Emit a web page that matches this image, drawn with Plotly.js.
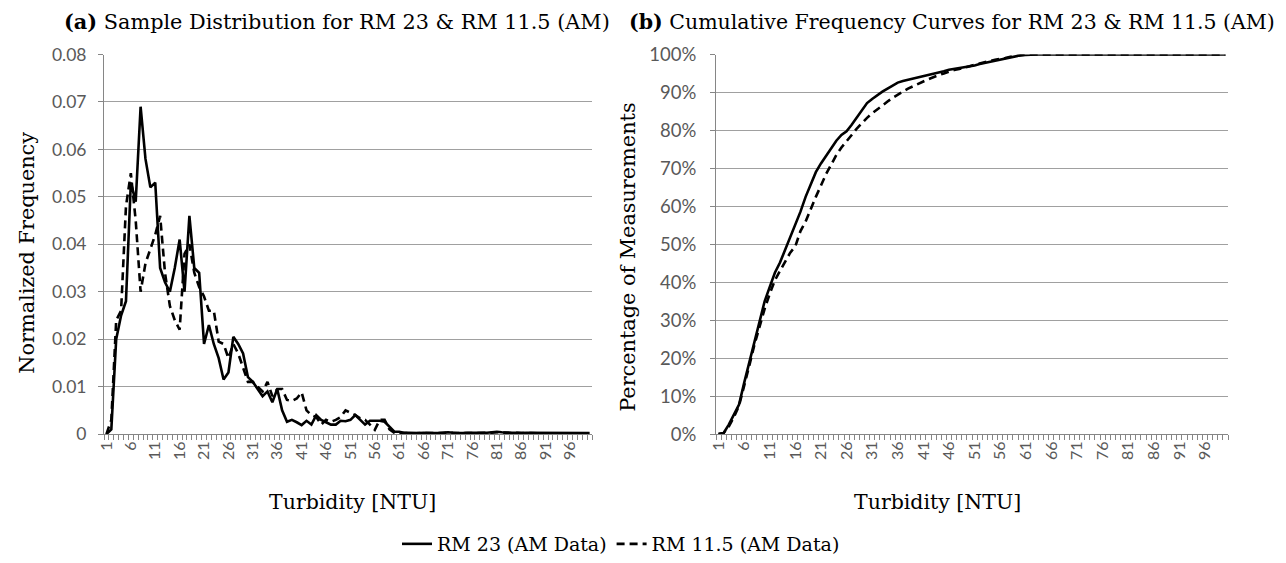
<!DOCTYPE html>
<html>
<head>
<meta charset="utf-8">
<script src="https://cdn.plot.ly/plotly-3.0.1.min.js"></script>
<style>html,body{margin:0;padding:0;background:#fff;}#chart{width:1286px;height:563px;}</style>
</head>
<body>
<div id="chart"></div>
<script>
// Turbidity categories [NTU]
const turbidity = [1,2,3,4,5,6,7,8,9,10,11,12,13,14,15,16,17,18,19,20,
  21,22,23,24,25,26,27,28,29,30,31,32,33,34,35,36,37,38,39,40,
  41,42,43,44,45,46,47,48,49,50,51,52,53,54,55,56,57,58,59,60,
  61,62,63,64,65,66,67,68,69,70,71,72,73,74,75,76,77,78,79,80,
  81,82,83,84,85,86,87,88,89,90,91,92,93,94,95,96,97,98,99,100];
const tickLabels = [1,6,11,16,21,26,31,36,41,46,51,56,61,66,71,76,81,86,91,96];

// (a) normalized frequency
const freqRM23 = [0,0.001,0.02,0.025,0.028,0.053,0.049,0.069,0.058,0.052,
  0.053,0.035,0.032,0.030,0.035,0.041,0.030,0.046,0.035,0.034,
  0.019,0.023,0.019,0.016,0.0115,0.013,0.0205,0.019,0.017,0.012,
  0.011,0.0095,0.008,0.009,0.0067,0.0095,0.005,0.0026,0.003,0.0025,
  0.0019,0.0028,0.002,0.004,0.003,0.0025,0.002,0.002,0.0028,0.0027,
  0.003,0.004,0.003,0.002,0.0028,0.0028,0.0028,0.0026,0.0015,0.0005,
  0.0005,0.0003,0.0003,0.0002,0.0002,0.0003,0.0002,0.0002,0.0002,0.0003,
  0.0004,0.0003,0.0002,0.0002,0.0003,0.0003,0.0002,0.0003,0.0003,0.0004,
  0.0005,0.0004,0.0003,0.0003,0.0003,0.0002,0.0003,0.0003,0.0002,0.0003,
  0.0002,0.0002,0.0003,0.0002,0.0002,0.0002,0.0002,0.0002,0.0002,0.0002];
const freqRM115 = [0,0.003,0.024,0.026,0.048,0.055,0.045,0.030,0.036,0.039,
  0.042,0.046,0.034,0.027,0.024,0.022,0.038,0.040,0.034,0.031,
  0.029,0.026,0.026,0.0195,0.019,0.016,0.019,0.017,0.014,0.011,
  0.011,0.010,0.009,0.011,0.008,0.0095,0.0095,0.0072,0.007,0.0075,
  0.0088,0.005,0.004,0.0036,0.002,0.003,0.0026,0.003,0.0036,0.005,
  0.0045,0.004,0.0033,0.003,0.002,0.0009,0.003,0.003,0.001,0.0003,
  0,0.0002,0.0002,0.0001,0.0002,0.0002,0.0001,0.0002,0.0002,0.0002,
  0.0003,0.0002,0.0002,0.0002,0.0002,0.0003,0.0002,0.0002,0.0003,0.0003,
  0.0004,0.0003,0.0002,0.0002,0.0003,0.0002,0.0002,0.0002,0.0002,0.0002,
  0.0002,0.0001,0.0002,0.0002,0.0001,0.0002,0.0001,0.0001,0.0001,0.0001];

// (b) cumulative percentage of measurements
const cumRM23 = [0,0.3,2.5,5,7.8,13.5,19,24.5,29.5,35,
  38.8,42.5,45.2,48.5,51.6,55,58.6,62.5,66,69,
  71.3,73.3,75.3,77.3,78.8,79.8,81.5,83.5,85.5,87.2,
  88.3,89.3,90.2,91,91.8,92.6,93,93.3,93.7,94,
  94.3,94.6,95,95.3,95.6,96,96.2,96.4,96.6,96.8,
  97.1,97.5,97.8,98,98.3,98.6,98.9,99.2,99.5,99.8,
  99.9,100,100,100,100,100,100,100,100,100,
  100,100,100,100,100,100,100,100,100,100,
  100,100,100,100,100,100,100,100,100,100,
  100,100,100,100,100,100,100,100,100,100];
const cumRM115 = [0,0.3,2,4.5,7.5,12.5,18,23.5,28.5,33,
  37,40.5,43,45.5,47.8,49.5,53.5,56,59.5,62.5,
  65.5,68.5,71,73.5,75.5,77.3,78.8,80.5,82,83.3,
  84.5,85.6,86.6,87.6,88.6,89.5,90.2,91,91.7,92.3,
  92.9,93.5,94.1,94.6,95,95.5,95.9,96.2,96.5,96.9,
  97.3,97.7,98,98.3,98.6,98.8,99.1,99.4,99.6,99.9,
  100,100,100,100,100,100,100,100,100,100,
  100,100,100,100,100,100,100,100,100,100,
  100,100,100,100,100,100,100,100,100,100,
  100,100,100,100,100,100,100,100,100,100];

const serif = "DejaVu Serif, Liberation Serif, serif";
const sans = "Lato, Open Sans, Liberation Sans, sans-serif";
const tickGrey = '#595959';
const axisGrey = '#868686';
const gridGrey = '#a0a0a0';
const dashPat = '8px,5px';

const traces = [
  {x: turbidity, y: freqRM23, xaxis:'x', yaxis:'y', mode:'lines', name:'RM 23 (AM Data)',
   line:{color:'#000', width:2.6}, legendgroup:'a'},
  {x: turbidity, y: freqRM115, xaxis:'x', yaxis:'y', mode:'lines', name:'RM 11.5 (AM Data)',
   line:{color:'#000', width:2.6, dash:dashPat}, legendgroup:'b'},
  {x: turbidity, y: cumRM23, xaxis:'x2', yaxis:'y2', mode:'lines', name:'RM 23 (AM Data)',
   line:{color:'#000', width:2.6}, showlegend:false, legendgroup:'a'},
  {x: turbidity, y: cumRM115, xaxis:'x2', yaxis:'y2', mode:'lines', name:'RM 11.5 (AM Data)',
   line:{color:'#000', width:2.6, dash:dashPat}, showlegend:false, legendgroup:'b'}
];

const W = 1286, H = 563;
const px = v => v / W;
const py = v => 1 - v / H;

function xAxis(domain, anchor){
  return {
    domain: domain, anchor: anchor, range:[0.5,100.5],
    tickmode:'array', tickvals: tickLabels, ticktext: tickLabels.map(String),
    tickangle:-90, ticks:'', showgrid:false, zeroline:false,
    showline:true, linecolor:axisGrey, linewidth:1,
    tickfont:{family:sans, size:16, color:tickGrey},
    minor:{ticks:'outside', tickmode:'linear', tick0:0.5, dtick:1, ticklen:5, tickcolor:axisGrey, tickwidth:1, showgrid:false}
  };
}

const layout = {
  width: W, height: H, autosize:false,
  margin:{l:0, r:0, t:0, b:0},
  paper_bgcolor:'#fff', plot_bgcolor:'#fff',
  showlegend:true,
  legend:{orientation:'h', x:px(621), xanchor:'center', y:py(549), yanchor:'middle',
    font:{family:serif, size:19, color:'#000'}, bgcolor:'rgba(0,0,0,0)', traceorder:'normal'},
  xaxis: xAxis([px(104), px(592)], 'y'),
  xaxis2: xAxis([px(716), px(1228)], 'y2'),
  yaxis: {domain:[py(438), py(55)], anchor:'x', range:[0,0.08], dtick:0.01, tick0:0,
    showgrid:true, gridcolor:gridGrey, gridwidth:1, zeroline:false,
    showline:true, linecolor:axisGrey, ticks:'outside', ticklen:5, tickcolor:axisGrey,
    tickfont:{family:sans, size:17.5, color:tickGrey}, ticklabelstandoff:8},
  yaxis2: {domain:[py(438), py(55)], anchor:'x2', range:[0,100], dtick:10, tick0:0, ticksuffix:'%',
    showgrid:true, gridcolor:gridGrey, gridwidth:1, zeroline:false,
    showline:true, linecolor:axisGrey, ticks:'outside', ticklen:5, tickcolor:axisGrey,
    tickfont:{family:sans, size:18.5, color:tickGrey}, ticklabelstandoff:10},
  annotations: [
    {text:'<b>(a)</b> Sample Distribution for RM 23 &amp; RM 11.5 (AM)', xref:'paper', yref:'paper',
     x:px(337), y:py(22), xanchor:'center', yanchor:'middle', showarrow:false,
     font:{family:serif, size:20.8, color:'#000'}},
    {text:'<b>(b)</b> Cumulative Frequency Curves for RM 23 &amp; RM 11.5 (AM)', xref:'paper', yref:'paper',
     x:px(952), y:py(22), xanchor:'center', yanchor:'middle', showarrow:false,
     font:{family:serif, size:20.5, color:'#000'}},
    {text:'Normalized Frequency', xref:'paper', yref:'paper', x:px(27), y:py(255),
     xanchor:'center', yanchor:'middle', textangle:-90, showarrow:false,
     font:{family:serif, size:20.8, color:'#000'}},
    {text:'Percentage of Measurements', xref:'paper', yref:'paper', x:px(628), y:py(260),
     xanchor:'center', yanchor:'middle', textangle:-90, showarrow:false,
     font:{family:serif, size:20.8, color:'#000'}},
    {text:'Turbidity [NTU]', xref:'paper', yref:'paper', x:px(352), y:py(507),
     xanchor:'center', yanchor:'middle', showarrow:false,
     font:{family:serif, size:20.5, color:'#000'}},
    {text:'Turbidity [NTU]', xref:'paper', yref:'paper', x:px(937), y:py(507),
     xanchor:'center', yanchor:'middle', showarrow:false,
     font:{family:serif, size:20.5, color:'#000'}}
  ]
};

Plotly.newPlot('chart', traces, layout, {displayModeBar:false, staticPlot:true});
</script>
</body>
</html>
